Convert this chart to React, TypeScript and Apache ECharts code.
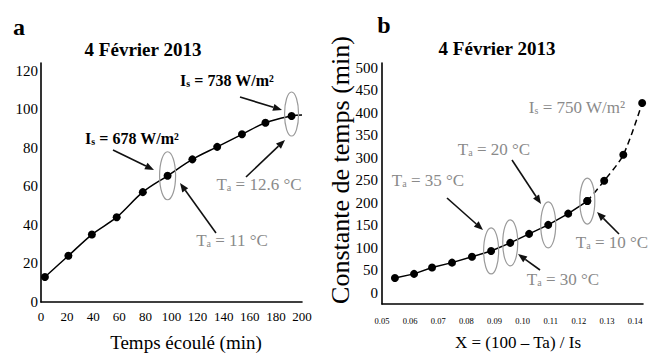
import React, { useEffect, useRef } from 'react';
import * as echarts from 'echarts';

// ---------- data ----------
// Panel a : time constant vs elapsed time
const elapsedMin = [3, 21, 39, 58, 78, 97, 116, 135, 154, 172, 192];
const tauA = [13, 24, 35, 44, 57, 65.5, 74, 80.5, 87, 93, 96.5];
const lineEndA = [200, 97];
const circledA = [5, 10];

// Panel b : time constant vs X = (100 - Ta) / Is
const xRatio = [0.0546, 0.0614, 0.0678, 0.0749, 0.082, 0.0888, 0.0956, 0.1023, 0.1091, 0.1162, 0.123, 0.129, 0.1358, 0.1425];
const tauB = [33, 42, 56, 67, 80, 93, 111, 131, 151, 176, 204, 249, 307, 422];
const dashFrom = 10;
const circledB = [5, 6, 8, 10];

// tick labels
const yTicksA = [0, 20, 40, 60, 80, 100, 120];
const xTicksA = [0, 20, 40, 60, 80, 100, 120, 140, 160, 180, 200];
const yTicksB = [0, 50, 100, 150, 200, 250, 300, 350, 400, 450, 500];
const xTicksB = ['0.05', '0.06', '0.07', '0.08', '0.09', '0.10', '0.11', '0.12', '0.13', '0.14'];

// texts
const titleText = '4 Février 2013';
const xTitleA = 'Temps écoulé (min)';
const xTitleB = 'X = (100 – Ta) / Is';
const yTitleB = 'Constante de temps (min)';

const FONT = 'Liberation Serif';
const GRAY = '#8a8a8a';
const INK = '#111';

function txt(x: number, y: number, text: string, size: number, opts: any = {}) {
  return {
    type: 'text',
    x,
    y,
    rotation: opts.rotation || 0,
    style: {
      text,
      fontSize: size,
      fontFamily: FONT,
      fontWeight: opts.bold ? 'bold' : 'normal',
      fill: opts.color || '#000',
      align: 'center',
      textAlign: 'center',
      verticalAlign: 'middle',
      textVerticalAlign: 'middle',
    },
  };
}

function subLabel(x: number, y: number, main: string, sub: string, rest: string, size: number, bold: boolean, color: string) {
  const w = bold ? 'bold' : 'normal';
  return {
    type: 'text',
    x,
    y,
    style: {
      text: `{m|${main}}{s|${sub}}{m|${rest}}`,
      rich: {
        m: { fontSize: size, fontFamily: FONT, fontWeight: w, fill: color, padding: [0, 0, 6, 0] },
        s: { fontSize: Math.round(size * 0.6), fontFamily: FONT, fontWeight: w, fill: color },
      },
      fontFamily: FONT,
      fontSize: size,
      fill: color,
      align: 'center',
      textAlign: 'center',
      verticalAlign: 'middle',
      textVerticalAlign: 'middle',
    },
  };
}

function arrow(x1: number, y1: number, x2: number, y2: number) {
  const a = Math.atan2(y2 - y1, x2 - x1);
  const L = 9, W = 3.6;
  const c = Math.cos(a), s = Math.sin(a);
  const bx = x2 - L * c, by = y2 - L * s;
  const px = -s * W, py = c * W;
  return [
    { type: 'line', shape: { x1, y1, x2: bx, y2: by }, style: { stroke: INK, lineWidth: 1.6 } },
    { type: 'polygon', shape: { points: [[x2, y2], [bx + px, by + py], [bx - px, by - py]] }, style: { fill: INK } },
  ];
}

const axisLineStyle = { show: true, onZero: false, lineStyle: { color: '#000', width: 1.6 } };

export default function App() {
  const ref = useRef<HTMLDivElement>(null);

  useEffect(() => {
    document.body.style.margin = '0';
    const chart = echarts.init(ref.current as HTMLDivElement, null, { renderer: 'svg' });

    const ptsA: any[] = elapsedMin.map((x, i) => [x, tauA[i]]);
    ptsA.push({ value: lineEndA, symbol: 'none' });
    const ptsB = xRatio.map((x, i) => [x, tauB[i]]);

    chart.setOption({
      animation: false,
      backgroundColor: '#fff',
      textStyle: { fontFamily: FONT },
      grid: [
        { left: 41, top: 63, width: 261, height: 239 },
        { left: 382, top: 63, width: 261, height: 241 },
      ],
      xAxis: [
        {
          type: 'value', gridIndex: 0, min: 0, max: 200, interval: 20,
          axisLine: axisLineStyle, axisTick: { show: false }, splitLine: { show: false },
          axisLabel: {
            fontFamily: FONT, fontSize: 13, color: '#000', margin: 8,
            formatter: (v: number) => (xTicksA.includes(Math.round(v)) ? String(Math.round(v)) : ''),
          },
        },
        {
          type: 'value', gridIndex: 1, min: 0.05, max: 0.1428, interval: 0.01,
          axisLine: axisLineStyle, axisTick: { show: false }, splitLine: { show: false },
          axisLabel: {
            fontFamily: FONT, fontSize: 8.5, color: '#000', margin: 12,
            formatter: (v: number) => {
              const r = Math.round(v * 100);
              if (Math.abs(v * 100 - r) > 0.01) return '';
              const t = (r / 100).toFixed(2);
              return xTicksB.includes(t) ? t : '';
            },
          },
        },
      ],
      yAxis: [
        {
          type: 'value', gridIndex: 0, min: 0, max: 124, interval: 20,
          axisLine: axisLineStyle, axisTick: { show: false }, splitLine: { show: false },
          axisLabel: {
            fontFamily: FONT, fontSize: 15, color: '#000', margin: 3,
            formatter: (v: number) => (yTicksA.includes(v) ? String(v) : ''),
          },
        },
        {
          type: 'value', gridIndex: 1, min: -25, max: 511, interval: 25,
          axisLine: axisLineStyle, axisTick: { show: false }, splitLine: { show: false },
          axisLabel: {
            fontFamily: FONT, fontSize: 15, color: '#000', margin: 4,
            formatter: (v: number) => (yTicksB.includes(v) ? String(v) : ''),
          },
        },
      ],
      series: [
        {
          type: 'line', xAxisIndex: 0, yAxisIndex: 0, smooth: 0.35, data: ptsA,
          symbol: 'circle', symbolSize: 8, itemStyle: { color: '#000' },
          lineStyle: { color: '#000', width: 1.5 },
        },
        {
          type: 'line', xAxisIndex: 1, yAxisIndex: 1, data: ptsB.slice(0, dashFrom + 1),
          symbol: 'circle', symbolSize: 8, itemStyle: { color: '#000' },
          lineStyle: { color: '#000', width: 1.5 },
        },
        {
          type: 'line', xAxisIndex: 1, yAxisIndex: 1, smooth: 0.3, data: ptsB.slice(dashFrom),
          symbol: 'circle', symbolSize: 8, itemStyle: { color: '#000' },
          lineStyle: { color: '#000', width: 1.5, type: [6, 4] },
        },
      ],
    });

    const ell = (p: number[], rx: number, ry: number) => ({
      type: 'ellipse',
      shape: { cx: p[0], cy: p[1], rx, ry },
      style: { fill: 'none', stroke: '#9a9a9a', lineWidth: 1.2 },
      z: 10,
    });

    const ellipses: any[] = [];
    circledA.forEach((i, k) => {
      const p = chart.convertToPixel({ seriesIndex: 0 }, [elapsedMin[i], tauA[i]]) as number[];
      ellipses.push(ell([p[0], p[1] - (k === 1 ? 2 : 0)], k === 0 ? 8 : 7, k === 0 ? 24 : 22));
    });
    circledB.forEach((i) => {
      const p = chart.convertToPixel({ seriesIndex: 1 }, [xRatio[i], tauB[i]]) as number[];
      ellipses.push(ell(p, 7.5, 23));
    });

    const elements: any[] = [
      txt(19, 27, 'a', 24, { bold: true }),
      txt(384, 25, 'b', 24, { bold: true }),
      txt(143, 49, titleText, 19, { bold: true }),
      txt(497, 48, titleText, 19, { bold: true }),
      txt(186, 342, xTitleA, 19),
      txt(518, 342, xTitleB, 17),
      txt(340, 170, yTitleB, 26, { rotation: Math.PI / 2 }),
      subLabel(227, 83, 'I', 's', ' = 738 W/m²', 16, true, '#000'),
      subLabel(132, 141, 'I', 's', ' = 678 W/m²', 16, true, '#000'),
      subLabel(259, 187, 'T', 'a', ' = 12.6 °C', 17, false, GRAY),
      subLabel(232, 243, 'T', 'a', ' = 11 °C', 17, false, GRAY),
      subLabel(428, 183, 'T', 'a', ' = 35 °C', 17, false, GRAY),
      subLabel(494, 152, 'T', 'a', ' = 20 °C', 17, false, GRAY),
      subLabel(563, 282, 'T', 'a', ' = 30 °C', 17, false, GRAY),
      subLabel(612, 245, 'T', 'a', ' = 10 °C', 17, false, GRAY),
      subLabel(577, 110, 'I', 's', ' = 750 W/m²', 17, false, GRAY),
      ...arrow(113, 150, 154, 170),
      ...arrow(240, 97, 282, 110),
      ...arrow(246, 177, 285, 140),
      ...arrow(216, 233, 180, 183),
      ...arrow(447, 198, 483, 230),
      ...arrow(512, 160, 541, 204),
      ...arrow(540, 270, 518, 254),
      ...arrow(619, 234, 597, 212),
      ...ellipses,
    ];

    chart.setOption({ graphic: { elements } });

    return () => chart.dispose();
  }, []);

  return <div ref={ref} style={{ width: 649, height: 356 }} />;
}
